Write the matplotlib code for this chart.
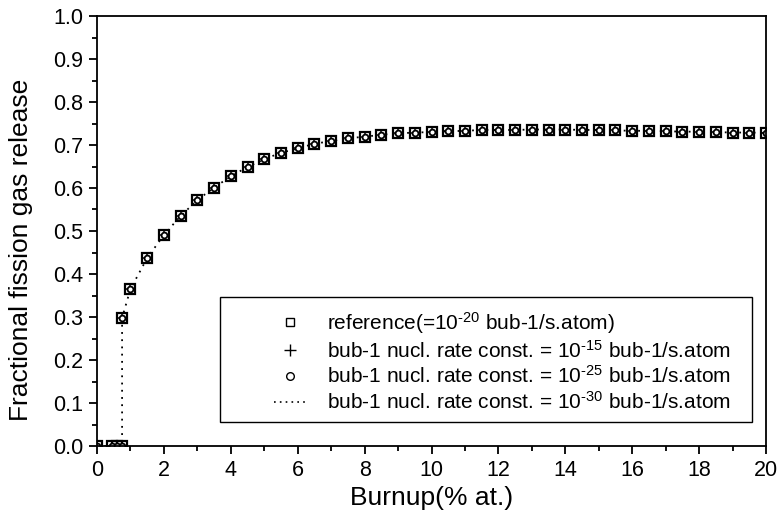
import matplotlib
matplotlib.use('Agg')
from matplotlib import pyplot as plt
from matplotlib import ticker
from matplotlib.lines import Line2D
from matplotlib.patches import Rectangle

plt.rcParams['font.family'] = ['Liberation Sans', 'DejaVu Sans']
plt.rcParams['mathtext.fontset'] = 'custom'
plt.rcParams['mathtext.rm'] = 'Liberation Sans'
plt.rcParams['mathtext.it'] = 'Liberation Sans:italic'
plt.rcParams['mathtext.bf'] = 'Liberation Sans:bold'

# Burnup (% at.) sample points
burnup = [0.0, 0.45, 0.6, 0.75, 0.75, 1.0, 1.5, 2.0, 2.5, 3.0, 3.5, 4.0, 4.5,
          5.0, 5.5, 6.0, 6.5, 7.0, 7.5, 8.0, 8.5, 9.0, 9.5, 10.0, 10.5, 11.0,
          11.5, 12.0, 12.5, 13.0, 13.5, 14.0, 14.5, 15.0, 15.5, 16.0, 16.5,
          17.0, 17.5, 18.0, 18.5, 19.0, 19.5, 20.0]

# reference case (=1e-20 bub-1/s.atom)
release_ref = [0.0, 0.0, 0.0, 0.0, 0.298, 0.365, 0.437, 0.491, 0.535, 0.572,
               0.601, 0.627, 0.649, 0.667, 0.682, 0.692, 0.703, 0.709, 0.716,
               0.719, 0.724, 0.727, 0.729, 0.730, 0.732, 0.733, 0.735, 0.735,
               0.735, 0.736, 0.736, 0.736, 0.735, 0.735, 0.734, 0.733, 0.733,
               0.732, 0.731, 0.731, 0.730, 0.729, 0.729, 0.728]
# the other nucleation rate constants fall on top of the reference curve
release_1e15 = list(release_ref)
release_1e25 = list(release_ref)
release_1e30 = list(release_ref)

labels = [r'reference(=10$^{\text{-20}}$ bub-1/s.atom)',
          r'bub-1 nucl. rate const. = 10$^{\text{-15}}$ bub-1/s.atom',
          r'bub-1 nucl. rate const. = 10$^{\text{-25}}$ bub-1/s.atom',
          r'bub-1 nucl. rate const. = 10$^{\text{-30}}$ bub-1/s.atom']

W, H = 778, 514
fig = plt.figure(figsize=(W / 100, H / 100), dpi=100)
ax = fig.add_axes([97 / W, 1 - 446 / H, 669 / W, 430 / H])

ax.plot(burnup, release_1e30, linestyle=(0, (1, 3)), color='black', lw=1.3)
ax.plot(burnup, release_ref, 's', ms=6.5, mfc='none', mec='black', mew=1.6)
ax.plot(burnup, release_1e15, '+', ms=8, mec='black', mew=1.1)
ax.plot(burnup, release_1e25, 'o', ms=4.2, mfc='white', mec='black', mew=1.3)

ax.set_xlim(0, 20)
ax.set_ylim(0, 1.0)
ax.xaxis.set_major_locator(ticker.MultipleLocator(2))
ax.xaxis.set_minor_locator(ticker.MultipleLocator(1))
ax.yaxis.set_major_locator(ticker.MultipleLocator(0.1))
ax.yaxis.set_minor_locator(ticker.MultipleLocator(0.05))
ax.yaxis.set_major_formatter(ticker.FormatStrFormatter('%.1f'))
ax.tick_params(which='both', direction='out', top=False, right=False,
               width=1.3, labelsize=15.5)
ax.tick_params(which='major', length=6, pad=4)
ax.tick_params(which='minor', length=3.5)
for sp in ax.spines.values():
    sp.set_linewidth(1.3)

ax.set_xlabel('Burnup(% at.)', fontsize=19)
ax.set_ylabel('Fractional fission gas release', fontsize=19)
ax.xaxis.set_label_coords(0.5, -0.093)
ax.yaxis.set_label_coords(-0.095, 0.456)

# legend frame drawn separately so the padding matches the original
ax.add_patch(Rectangle(((220 - 97) / 669, (446 - 422) / 430),
                       (752 - 220) / 669, (422 - 297) / 430,
                       transform=ax.transAxes, fill=False, lw=1.0,
                       edgecolor='black', zorder=5))
handles = [
    Line2D([], [], marker='s', ls='none', ms=6, mfc='none', mec='black', mew=1.0),
    Line2D([], [], marker='+', ls='none', ms=9, mec='black', mew=1.0),
    Line2D([], [], marker='o', ls='none', ms=5.5, mfc='none', mec='black', mew=1.0),
    Line2D([], [], linestyle=(0, (1, 2.5)), color='black', lw=1.2),
]
leg = ax.legend(handles, labels, loc='upper left',
                bbox_to_anchor=(274 / W, 1 - 310 / H),
                bbox_transform=fig.transFigure, frameon=False,
                fontsize=15, borderpad=0, borderaxespad=0,
                handlelength=1.55, handletextpad=1.0, labelspacing=0.18)

fig.savefig('out.png', dpi=100)
